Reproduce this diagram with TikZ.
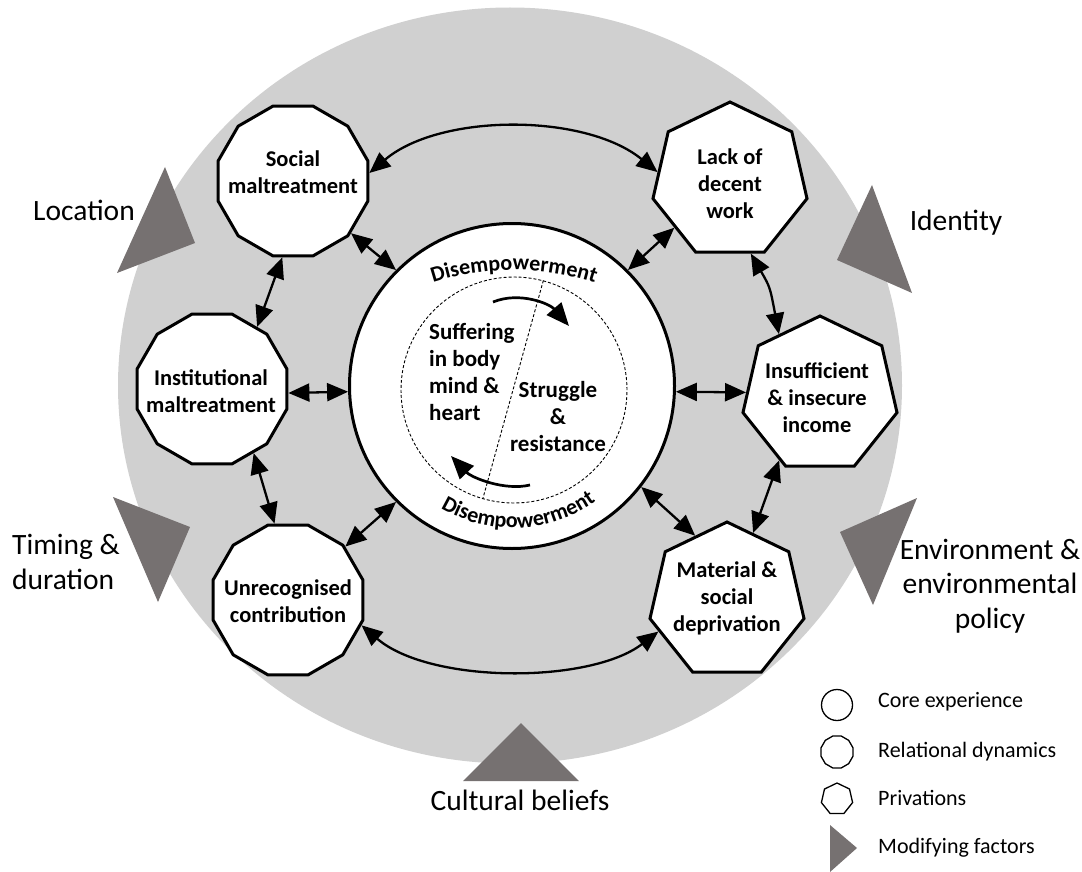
\documentclass[tikz,border=0pt]{standalone}
\usepackage{fontspec}
\setmainfont{Carlito}
\usetikzlibrary{shapes.geometric,arrows.meta,decorations.text}
\definecolor{ringgray}{RGB}{208,208,208}
\definecolor{trigray}{HTML}{767171}
\begin{document}
\begin{tikzpicture}[x=1pt,y=-1pt,
  poly/.style={draw=black, line width=3pt, fill=white, regular polygon, inner sep=0pt},
  relbox/.style={poly, regular polygon sides=12, minimum size=155pt},
  privbox/.style={poly, regular polygon sides=7, minimum size=158pt},
  lbl/.style={font=\fontsize{22.5}{27}\selectfont\bfseries, align=center, inner sep=0pt},
  corelbl/.style={font=\fontsize{23}{27}\selectfont\bfseries, align=center, inner sep=0pt},
  outerlbl/.style={font=\fontsize{29.5}{34.5}\selectfont, align=center, inner sep=0pt},
  leglbl/.style={font=\fontsize{22}{26}\selectfont, anchor=west, inner sep=0pt},
  conn/.style={line width=2.3pt, arrows={Triangle[length=21pt,width=18pt]-Triangle[length=21pt,width=18pt]}},
  cyc/.style={line width=2.7pt, arrows={-Triangle[length=23pt,width=19pt]}},
  modtri/.style={fill=trigray, draw=none},
]
\useasboundingbox (0,0) rectangle (1082,872);
% outer ring
\fill[ringgray] (510,385.5) ellipse[x radius=392, y radius=378];
% modifying factor triangles
\fill[modtri] (165,167) -- (195,243) -- (117,273) -- cycle;
\fill[modtri] (113,497) -- (190,527) -- (158,602) -- cycle;
\fill[modtri] (872,185) -- (912,293) -- (837,260) -- cycle;
\fill[modtri] (917,498) -- (873,605) -- (840,532) -- cycle;
\fill[modtri] (521,723) -- (579,781) -- (463,781) -- cycle;
% core
\node[circle, draw=black, line width=3pt, fill=white, minimum size=325pt, inner sep=0pt] (core) at (512,386) {};
\node[circle, draw=black, line width=0.9pt, dash pattern=on 3pt off 2pt, minimum size=226pt, inner sep=0pt] (dc) at (514,390) {};
\draw[line width=0.9pt, dash pattern=on 3pt off 2pt] (dc.75.5) -- (dc.254.8);
\path[decorate, decoration={text along path, text align=center,
  text={|\fontsize{22}{22}\selectfont\bfseries|Disempowerment}}]
  (514,532) ++(-118:262) arc[start angle=-118, end angle=-62, radius=262];
\path[decorate, decoration={text along path, text align=center,
  text={|\fontsize{22}{22}\selectfont\bfseries|Disempowerment}}]
  (513,386) ++(-218:142) arc[start angle=-218, end angle=-327, radius=142];
\node[corelbl, align=left, anchor=west] (suf) at (429,372) {Suffering\\in body\\mind \&\\heart};
\node[corelbl] (str) at (558,416.5) {Struggle\\\&\\resistance};
\coordinate (ca1) at (493,302);
\coordinate (ca2) at (569,326);
\coordinate (cb1) at (530,485);
\coordinate (cb2) at (451,456);
\draw[cyc] (ca1) .. controls (520,291) and (550,304) .. (ca2);
\draw[cyc] (cb1) .. controls (505,491) and (472,478) .. (cb2);
% relational dynamics
\node[relbox] (sm) at (293,181) {};
\node[lbl] (smt) at (293,172.5) {Social\\maltreatment};
\node[relbox] (im) at (212,389) {};
\node[lbl] (imt) at (211,391) {Institutional\\maltreatment};
\node[relbox] (ur) at (288,600) {};
\node[lbl] (urt) at (288,601) {Unrecognised\\contribution};
% privations
\node[privbox] (lk) at (730,181) {};
\node[lbl] (lkt) at (730,183.5) {Lack of\\decent\\work};
\node[privbox] (ins) at (820,395) {};
\node[lbl] (inst) at (817,397.5) {Insufficient\\\& insecure\\income};
\node[privbox] (md) at (727,601) {};
\node[lbl] (mdt) at (727,598.5) {Material \&\\social\\deprivation};
% connectors
\draw[conn] (sm.6) .. controls (440,113) and (585,113) .. (lk.173);
\draw[conn] (ur.-19) .. controls (430,684) and (590,684) .. (md.204);
\draw[conn] (sm.262) -- (im.54);
\draw[conn] (im.-57) -- (ur.100);
\draw[conn] (lk.-74) .. controls (770,287) .. (ins.124);
\draw[conn] (ins.238) -- (md.69);
\draw[conn] (sm.-42) -- (core.135);
\draw[conn] (lk.220) -- (core.45);
\draw[conn] (im.-3) -- (core.182);
\draw[conn] (core.-2.4) -- (ins.178.5);
\draw[conn] (ur.43) -- (core.225);
\draw[conn] (md.116) -- (core.-38);
% modifying factor labels
\node[outerlbl] (loc) at (84,210) {Location};
\node[outerlbl, align=left, anchor=west] (tim) at (12,562) {Timing \&\\duration};
\node[outerlbl] (idn) at (956,223) {Identity};
\node[outerlbl] (env) at (990,586) {Environment \&\\environmental\\policy};
\node[outerlbl] (cul) at (520,800) {Cultural beliefs};
% legend
\node[circle, draw=black, line width=1.3pt, minimum size=31pt, inner sep=0pt] (lg1) at (837,705) {};
\node[regular polygon, regular polygon sides=12, draw=black, line width=1.3pt, minimum size=33pt, inner sep=0pt] (lg2) at (837,752) {};
\node[regular polygon, regular polygon sides=7, draw=black, line width=1.3pt, minimum size=32pt, inner sep=0pt] (lg3) at (837,799) {};
\fill[modtri] (830,825) -- (857,848) -- (830,872) -- cycle;
\node[leglbl] (lt1) at (878,702) {Core experience};
\node[leglbl] (lt2) at (878,752) {Relational dynamics};
\node[leglbl] (lt3) at (878,798) {Privations};
\node[leglbl] (lt4) at (878,848) {Modifying factors};
\end{tikzpicture}
\end{document}
